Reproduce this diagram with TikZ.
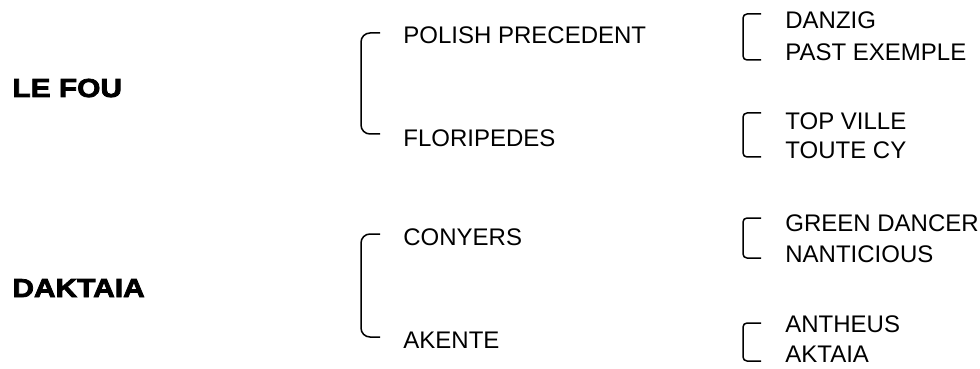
\documentclass[tikz,border=0pt]{standalone}
\usepackage{fontspec}
\setmainfont{Liberation Sans}
\newfontfamily\heavyfont[FakeBold=3,FakeStretch=1.15]{Liberation Sans Bold}
\tikzset{
	horse/.style={anchor=base west,inner sep=0pt,font=\fontsize{12}{14}\selectfont},
	sire/.style={anchor=base west,inner sep=0pt,font=\heavyfont\fontsize{13}{15}\selectfont},
	bigbrack/.style={line width=0.75pt,rounded corners=4.5pt},
	smallbrack/.style={line width=0.75pt,rounded corners=2pt}
}
\begin{document}
\begin{tikzpicture}[x=0.5pt,y=-0.5pt]
			\useasboundingbox (0,0) rectangle (980,369);
			% sires
			\node[sire] (lefou) at (12,97) {LE FOU};
			\node[sire] (daktaia) at (12,297) {DAKTAIA};
			% parents
			\node[horse] (polish) at (403,44) {POLISH PRECEDENT};
			\node[horse] (floripedes) at (403,147) {FLORIPEDES};
			\node[horse] (conyers) at (403,245) {CONYERS};
			\node[horse] (akente) at (403,348) {AKENTE};
			% grandparents
			\node[horse] (danzig) at (785,28.5) {DANZIG};
			\node[horse] (past) at (785,60.5) {PAST EXEMPLE};
			\node[horse] (topville) at (785,130) {TOP VILLE};
			\node[horse] (toutecy) at (785,159) {TOUTE CY};
			\node[horse] (green) at (785,231) {GREEN DANCER};
			\node[horse] (nanticious) at (785,262) {NANTICIOUS};
			\node[horse] (antheus) at (785,332) {ANTHEUS};
			\node[horse] (aktaia) at (785,362) {AKTAIA};
			% brackets
			\draw[bigbrack] (380,33) -- (361,33) -- (361,134) -- (380,134);
			\draw[bigbrack] (380,234) -- (361,234) -- (361,337) -- (380,337);
			\draw[smallbrack] (761,14) -- (743,14) -- (743,60) -- (761,60);
			\draw[smallbrack] (761,113) -- (743,113) -- (743,157) -- (761,157);
			\draw[smallbrack] (761,218) -- (743,218) -- (743,258) -- (761,258);
			\draw[smallbrack] (761,323) -- (743,323) -- (743,361) -- (761,361);
		\end{tikzpicture}
\end{document}
